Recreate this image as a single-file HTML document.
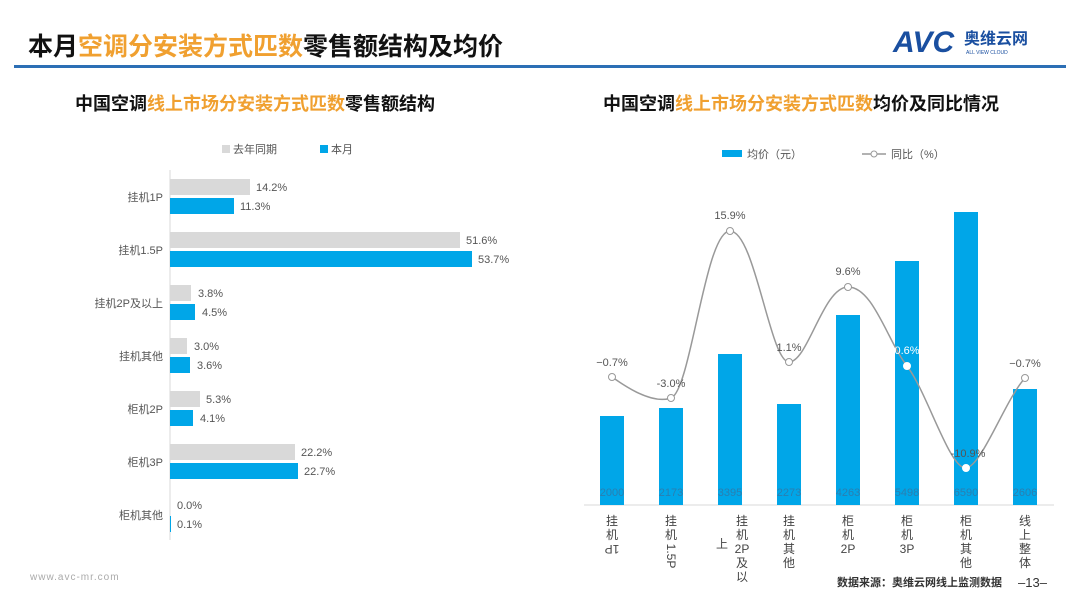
<!DOCTYPE html>
<html><head><meta charset="utf-8"><style>
body{margin:0;width:1080px;height:607px;background:#fff;overflow:hidden;font-family:"Liberation Sans","Noto Sans CJK SC",sans-serif;}
</style></head><body>
<svg width="1080" height="607" xmlns="http://www.w3.org/2000/svg" font-family="Liberation Sans, Noto Sans CJK SC, sans-serif">
<text x="28" y="55" font-size="25" font-weight="bold" fill="#111">本月<tspan fill="#f0a030">空调分安装方式匹数</tspan>零售额结构及均价</text>
<text x="893" y="52" font-size="30" font-weight="bold" fill="#1a4fa0" font-style="italic">AVC</text>
<text x="964" y="44" font-size="16" font-weight="bold" fill="#1a4fa0">奥维云网</text>
<text x="966" y="54" font-size="5" fill="#1a4fa0">ALL VIEW CLOUD</text>
<rect x="14" y="65" width="1052" height="3" fill="#2c6fb5"/>
<text x="75" y="110" font-size="18" font-weight="bold" fill="#111">中国空调<tspan fill="#f0a030">线上市场分安装方式匹数</tspan>零售额结构</text>
<text x="603" y="110" font-size="18" font-weight="bold" fill="#111">中国空调<tspan fill="#f0a030">线上市场分安装方式匹数</tspan>均价及同比情况</text>
<!-- left legend -->
<rect x="222" y="145" width="8" height="8" fill="#d9d9d9"/><text x="233" y="153" font-size="11" fill="#555">去年同期</text>
<rect x="320" y="145" width="8" height="8" fill="#00a6e8"/><text x="331" y="153" font-size="11" fill="#555">本月</text>
<line x1="170" y1="170" x2="170" y2="540" stroke="#d9d9d9"/>
<g font-size="11" fill="#555">
<g transform="translate(0,0)">
<rect x="170" y="179" width="80" height="16" fill="#d9d9d9"/><rect x="170" y="198" width="64" height="16" fill="#00a6e8"/>
<text x="256" y="191">14.2%</text><text x="240" y="210">11.3%</text><text x="163" y="201" text-anchor="end">挂机1P</text>
<rect x="170" y="232" width="290" height="16" fill="#d9d9d9"/><rect x="170" y="251" width="302" height="16" fill="#00a6e8"/>
<text x="466" y="244">51.6%</text><text x="478" y="263">53.7%</text><text x="163" y="254" text-anchor="end">挂机1.5P</text>
<rect x="170" y="285" width="21" height="16" fill="#d9d9d9"/><rect x="170" y="304" width="25" height="16" fill="#00a6e8"/>
<text x="198" y="297">3.8%</text><text x="202" y="316">4.5%</text><text x="163" y="307" text-anchor="end">挂机2P及以上</text>
<rect x="170" y="338" width="17" height="16" fill="#d9d9d9"/><rect x="170" y="357" width="20" height="16" fill="#00a6e8"/>
<text x="194" y="350">3.0%</text><text x="197" y="369">3.6%</text><text x="163" y="360" text-anchor="end">挂机其他</text>
<rect x="170" y="391" width="30" height="16" fill="#d9d9d9"/><rect x="170" y="410" width="23" height="16" fill="#00a6e8"/>
<text x="206" y="403">5.3%</text><text x="200" y="422">4.1%</text><text x="163" y="413" text-anchor="end">柜机2P</text>
<rect x="170" y="444" width="125" height="16" fill="#d9d9d9"/><rect x="170" y="463" width="128" height="16" fill="#00a6e8"/>
<text x="301" y="456">22.2%</text><text x="304" y="475">22.7%</text><text x="163" y="466" text-anchor="end">柜机3P</text>
<rect x="170" y="516" width="1" height="16" fill="#00a6e8"/>
<text x="177" y="509">0.0%</text><text x="177" y="528">0.1%</text><text x="163" y="519" text-anchor="end">柜机其他</text>
</g></g>
<!-- right legend -->
<rect x="722" y="150" width="20" height="7" fill="#00a6e8"/><text x="747" y="158" font-size="11" fill="#555">均价（元）</text>
<line x1="862" y1="154" x2="886" y2="154" stroke="#999" stroke-width="1.5"/><circle cx="874" cy="154" r="3" fill="#fff" stroke="#999"/><text x="891" y="158" font-size="11" fill="#555">同比（%）</text>
<line x1="584" y1="505" x2="1054" y2="505" stroke="#d9d9d9"/>
<g fill="#00a6e8">
<rect x="600" y="416" width="24" height="89"/>
<rect x="659" y="408" width="24" height="97"/>
<rect x="718" y="354" width="24" height="151"/>
<rect x="777" y="404" width="24" height="101"/>
<rect x="836" y="315" width="24" height="190"/>
<rect x="895" y="261" width="24" height="244"/>
<rect x="954" y="212" width="24" height="293"/>
<rect x="1013" y="389" width="24" height="116"/>
</g>
<g font-size="11" fill="#2a7fb0" text-anchor="middle">
<text x="612" y="496">2000</text><text x="671" y="496">2173</text><text x="730" y="496">3395</text><text x="789" y="496">2273</text><text x="848" y="496">4263</text><text x="907" y="496">5498</text><text x="966" y="496">6590</text><text x="1025" y="496">2606</text>
</g>
<path d="M612,377 C622,384 651,405 671,398 C691,391 705,231 730,231 C755,231 770,362 789,362 C808,362 823,287 848,287 C873,287 887,340 907,366 C927,392 950,470 966,468 C982,466 1005,400 1025,378" fill="none" stroke="#999" stroke-width="1.5"/>
<g fill="#fff" stroke="#999">
<circle cx="612" cy="377" r="3.5"/><circle cx="671" cy="398" r="3.5"/><circle cx="730" cy="231" r="3.5"/><circle cx="789" cy="362" r="3.5"/><circle cx="848" cy="287" r="3.5"/><circle cx="907" cy="366" r="3.5" stroke="#fff"/><circle cx="966" cy="468" r="3.5" stroke="#fff"/><circle cx="1025" cy="378" r="3.5"/>
</g>
<g font-size="11" fill="#555" text-anchor="middle">
<text x="612" y="366">−0.7%</text><text x="671" y="387">-3.0%</text><text x="730" y="219">15.9%</text><text x="789" y="351">1.1%</text><text x="848" y="275">9.6%</text><text x="907" y="354" fill="#fff">0.6%</text><text x="968" y="457">-10.9%</text><text x="1025" y="367">−0.7%</text>
</g>
<g font-size="12" fill="#444" text-anchor="middle">
<text x="612" y="525">挂</text><text x="612" y="539">机</text><text x="612" y="553" transform="rotate(180 612 549)">1P</text>
<text x="671" y="525">挂</text><text x="671" y="539">机</text><text x="671" y="560" transform="rotate(90 671 556)">1.5P</text>
<text x="742" y="525">挂</text><text x="742" y="539">机</text><text x="742" y="553">2P</text><text x="742" y="567">及</text><text x="742" y="581">以</text><text x="722" y="548">上</text>
<text x="789" y="525">挂</text><text x="789" y="539">机</text><text x="789" y="553">其</text><text x="789" y="567">他</text>
<text x="848" y="525">柜</text><text x="848" y="539">机</text><text x="848" y="553">2P</text>
<text x="907" y="525">柜</text><text x="907" y="539">机</text><text x="907" y="553">3P</text>
<text x="966" y="525">柜</text><text x="966" y="539">机</text><text x="966" y="553">其</text><text x="966" y="567">他</text>
<text x="1025" y="525">线</text><text x="1025" y="539">上</text><text x="1025" y="553">整</text><text x="1025" y="567">体</text>
</g>
<text x="30" y="580" font-size="10" fill="#aaa" letter-spacing="1">www.avc-mr.com</text>
<text x="837" y="586" font-size="11" font-weight="bold" fill="#333">数据来源：奥维云网线上监测数据</text>
<text x="1018" y="587" font-size="13" fill="#333">–13–</text>
</svg>
</body></html>
